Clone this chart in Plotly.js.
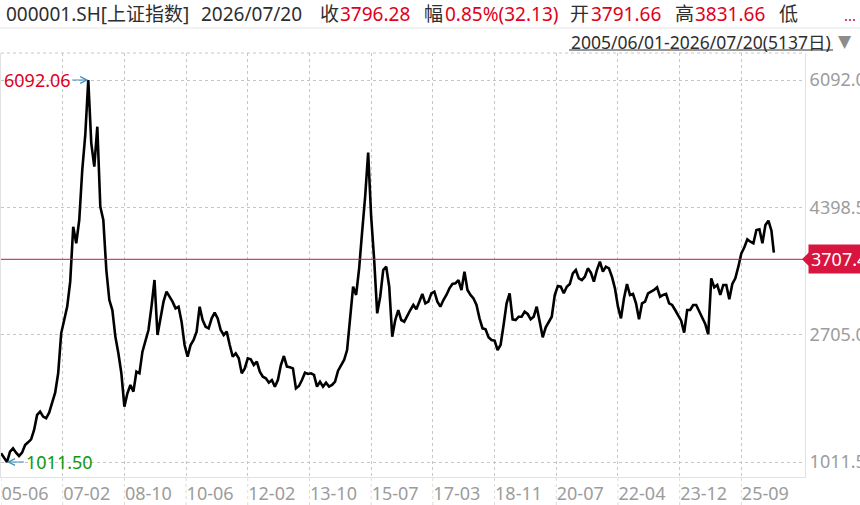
<!DOCTYPE html>
<html><head><meta charset="utf-8">
<script src="https://cdn.plot.ly/plotly-3.0.1.min.js"></script>
<style>html,body{margin:0;padding:0;background:#fff;overflow:hidden}#chart{width:860px;height:505px}</style>
</head><body><div id="chart"></div>
<script>
// ---------- data ----------
const STEP_DAYS = 20;          // sampling step in trading days
const TOTAL_DAYS = 5136;       // last trading day index (5137 days)
const closeValues = [
  1127,1061,1011.5,1149,1194,1136,1092,1136,1238,1273,
  1313,1437,1637,1681,1615,1593,1668,1801,1934,2191,
  2723,2900,3078,3410,4141,3920,4230,4895,5361,6092.06,
  5250,4939,5471,4407,4230,3565,3166,3033,2679,2457,
  2191,1748,1925,2036,1947,2213,2191,2479,2612,2767,
  3077,3432,2701,2922,3144,3277,3210,3144,3055,3077,
  2878,2568,2412,2568,2634,2745,3077,2900,2811,2789,
  2922,2998,2922,2767,2701,2745,2568,2412,2457,2390,
  2191,2257,2390,2377,2302,2346,2213,2146,2124,2067,
  2102,2014,2102,2302,2421,2280,2271,2257,1991,2022,
  2102,2200,2182,2191,2169,2014,2080,2014,2067,2014,
  2036,2080,2226,2302,2368,2501,2945,3343,3233,3587,
  4075,4540,5126,4274,3698,2989,3210,3565,3609,3343,
  2678,2900,3033,2900,2878,2967,3033,3100,3042,3144,
  3246,3122,3144,3255,3277,3144,3077,3166,3233,3321,
  3379,3388,3432,3299,3543,3299,3233,3188,3100,2922,
  2789,2776,2670,2634,2625,2501,2568,2834,3122,3255,
  2909,2900,2944,2944,3011,2980,2909,2944,3077,2878,
  2670,2803,2865,2944,3233,3352,3343,3255,3343,3379,
  3521,3565,3454,3432,3476,3587,3530,3410,3565,3676,
  3543,3609,3587,3476,3321,3077,2922,3188,3379,3233,
  3246,3122,2909,3122,3144,3255,3277,3299,3335,3210,
  3233,3246,3122,3100,3033,2967,2891,2732,3033,3033,
  3100,3100,3011,2944,2847,2710,3454,3335,3366,3233,
  3366,3366,3175,3379,3454,3609,3787,3867,3973,3942,
  3920,4097,4106,3920,4164,4221,4088,3796.28
];
const tickDays = [0,410,820,1230,1640,2050,2460,2870,3280,3690,4100,4510,4920];
const tickLabels = ['05-06','07-02','08-10','10-06','12-02','13-10','15-07','17-03','18-11','20-07','22-04','23-12','25-09'];
const yTickValues = [1011.50, 2705.02, 4398.54, 6092.06];
const yTickLabels = ['1011.50','2705.02','4398.54','6092.06'];
const highLabel = '6092.06';
const lowLabel = '1011.50';
const markerValue = 3707.44;
const markerLabel = '3707.44';
const headerParts = ['000001.SH[上证指数]','2026/07/20','收','3796.28','幅','0.85%(32.13)','开','3791.66','高','3831.66','低'];
const headerIsValue = [false,false,false,true,false,true,false,true,false,true,false];
const rangeText = '2005/06/01-2026/07/20(5137日)';

// ---------- layout helpers ----------
const W = 860, H = 505;
const M = {l:1, r:55, t:53, b:28, pad:0};
const PW = W - M.l - M.r, PH = H - M.t - M.b;
const X_RANGE = [0, 5343];
const Y_RANGE = [812.0, 6451.2];
const pxX = px => (px - M.l) / PW;
const pxY = py => (H - M.b - py) / PH;
const FONT = 'Noto Sans, Noto Sans CJK SC, sans-serif';
const RED = '#e0001a', DARK = '#2e2e2e', GREY = '#9c9c9c', GREEN = '#0e9a0e', TEAL = '#3d8fc0';
const GRID = '#c6c6c6';

const days = closeValues.map((v, i) => Math.min(i * STEP_DAYS, TOTAL_DAYS));
const hiIdx = closeValues.indexOf(Math.max(...closeValues));
const loIdx = closeValues.indexOf(Math.min(...closeValues));

const trace = {
  x: days, y: closeValues, type: 'scatter', mode: 'lines',
  line: {color: '#000', width: 2.6}, hoverinfo: 'skip'
};

const headerX = [4, 199, 318, 338, 422, 443, 568, 589, 673, 693, 777];
const annotations = headerParts.map((t, i) => ({
  xref: 'paper', yref: 'paper', x: pxX(headerX[i]), y: pxY(14),
  xanchor: 'left', yanchor: 'middle', text: t, showarrow: false,
  font: {family: FONT, size: 19, color: headerIsValue[i] ? RED : DARK}
}));
annotations.push({xref:'paper', yref:'paper', x: pxX(842), y: pxY(15), xanchor:'left', yanchor:'middle',
  text:'...', showarrow:false, font:{family:FONT, size:15, color:RED}});
annotations.push({xref:'paper', yref:'paper', x: pxX(833), y: pxY(42), xanchor:'right', yanchor:'middle',
  text: rangeText, showarrow:false, font:{family:FONT, size:17.5, color:DARK}});
annotations.push({xref:'paper', yref:'paper', x: pxX(836), y: pxY(41), xanchor:'left', yanchor:'middle',
  text:'▼', showarrow:false, font:{family:'DejaVu Sans', size:17, color:'#8c8c8c'}});
// high / low markers
annotations.push({xref:'x', yref:'y', x: days[hiIdx], y: closeValues[hiIdx], text: highLabel,
  showarrow:true, arrowhead:5, arrowsize:1.3, arrowwidth:1, arrowcolor:TEAL, ax:-51, ay:0, standoff:0,
  font:{family:FONT, size:18, color:RED}});
annotations.push({xref:'x', yref:'y', x: days[loIdx], y: closeValues[loIdx], text: lowLabel,
  showarrow:true, arrowhead:5, arrowsize:1.3, arrowwidth:1, arrowcolor:TEAL, ax:52, ay:0, standoff:0,
  font:{family:FONT, size:18, color:GREEN}});
// current marker label
annotations.push({xref:'paper', yref:'y', x: pxX(808), y: markerValue, xanchor:'left', yanchor:'middle',
  text: markerLabel, showarrow:false, bgcolor:'#d7153e', borderpad:2,
  font:{family:FONT, size:18, color:'#fff'}});

const unitY = (Y_RANGE[1] - Y_RANGE[0]) / PH;
const shapes = [
  {type:'line', xref:'paper', yref:'paper', x0: pxX(0), x1: pxX(860), y0: pxY(28), y1: pxY(28), line:{color:'#e4e4e4', width:1}},
  {type:'line', xref:'paper', yref:'paper', x0: pxX(569), x1: pxX(833), y0: pxY(50), y1: pxY(50), line:{color:DARK, width:1}},
  {type:'line', xref:'paper', yref:'paper', x0: 0, x1: 1, y0: 1, y1: 1, line:{color:GRID, width:1, dash:'dot'}},
  {type:'line', xref:'paper', yref:'y', x0: 0, x1: 1, y0: markerValue, y1: markerValue, line:{color:'#c8143c', width:1}},
  {type:'path', xref:'paper', yref:'y',
   path: `M ${pxX(802)},${markerValue} L ${pxX(809)},${markerValue + 7*unitY} L ${pxX(809)},${markerValue - 7*unitY} Z`,
   fillcolor:'#d7153e', line:{width:0}}
];
tickDays.forEach(d => shapes.push({type:'line', xref:'x', yref:'paper', x0:d, x1:d, y0: pxY(505), y1: 0,
  line:{color:'#dcdcdc', width:1, dash:'dot'}}));

const layout = {
  width: W, height: H, margin: M, paper_bgcolor:'#fff', plot_bgcolor:'#fff', showlegend:false,
  font:{family:FONT},
  xaxis: {range: X_RANGE, tickmode:'array', tickvals: tickDays, ticktext: tickLabels,
    showgrid:true, gridcolor:GRID, griddash:'dot', gridwidth:1, zeroline:false,
    showline:true, linecolor:'#e2e2e2', linewidth:1, ticks:'', ticklabelposition:'outside right',
    ticklabeloverflow:'allow', tickfont:{family:FONT, size:18, color:GREY}, fixedrange:true},
  yaxis: {range: Y_RANGE, side:'right', tickmode:'array', tickvals: yTickValues, ticktext: yTickLabels,
    showgrid:true, gridcolor:GRID, griddash:'dot', gridwidth:1, zeroline:false,
    showline:true, mirror:true, linecolor:'#e2e2e2', linewidth:1, ticks:'',
    ticklabeloverflow:'allow', tickfont:{family:FONT, size:18, color:GREY}, fixedrange:true},
  annotations, shapes
};
Plotly.newPlot('chart', [trace], layout, {displayModeBar:false, staticPlot:true});
</script></body></html>
